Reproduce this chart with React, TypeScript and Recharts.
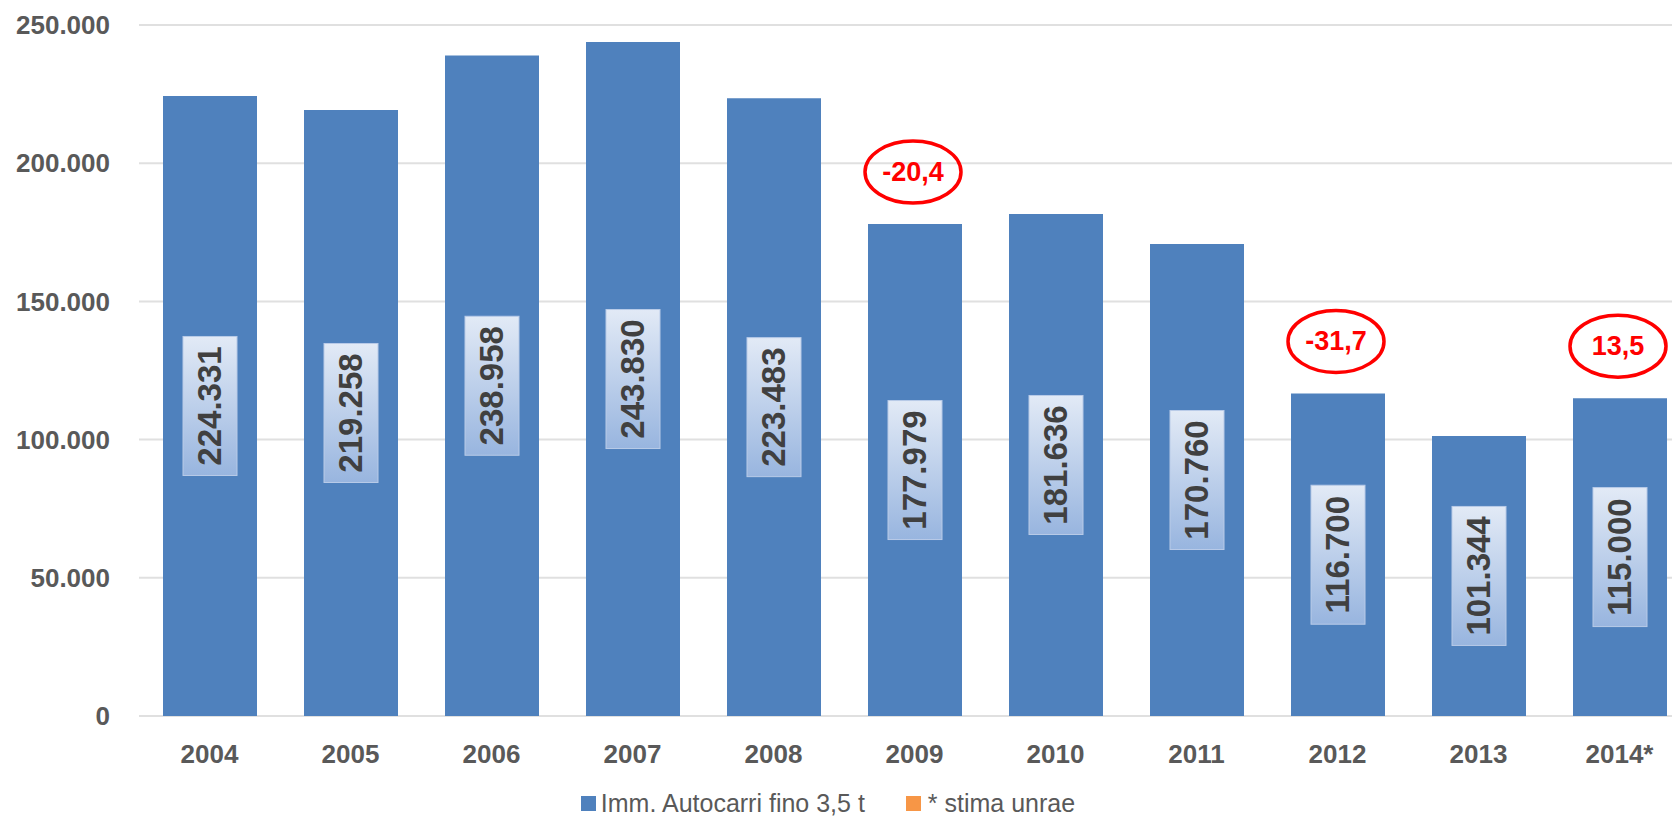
import React from 'react';
import { BarChart, Bar, XAxis, YAxis, CartesianGrid, Legend, LabelList } from 'recharts';

const years = ['2004', '2005', '2006', '2007', '2008', '2009', '2010', '2011', '2012', '2013', '2014*'];
const registrations = [224331, 219258, 238958, 243830, 223483, 177979, 181636, 170760, 116700, 101344, 115000];
const changes: (string | null)[] = [null, null, null, null, null, '-20,4', null, null, '-31,7', null, '13,5'];
const yTicks = [0, 50000, 100000, 150000, 200000, 250000];
const legendItems = [
  { label: 'Imm. Autocarri fino 3,5 t', color: '#4F81BD' },
  { label: '* stima unrae', color: '#F79646' },
];

const data = years.map((year, i) => ({ year, value: registrations[i], change: changes[i] }));

const FONT = '"Liberation Sans", Arial, sans-serif';
const GRAY = '#595959';

const fmt = (v: number) => String(Math.round(v)).replace(/\B(?=(\d{3})+(?!\d))/g, '.');

const ValueBox = (props: any) => {
  const { x, y, width, height, value, index } = props;
  const cx = Number(x) + Number(width) / 2;
  const cy = Number(y) + Number(height) / 2;
  const bw = 54;
  const bh = 139;
  const id = `vbgrad-${index}`;
  return (
    <g>
      <defs>
        <linearGradient id={id} x1="0" y1="0" x2="0" y2="1">
          <stop offset="0%" stopColor="#e2eaf6" />
          <stop offset="100%" stopColor="#98b5df" />
        </linearGradient>
      </defs>
      <rect x={cx - bw / 2} y={cy - bh / 2} width={bw} height={bh} fill={`url(#${id})`} stroke="#b9cbe8" strokeWidth={1} />
      <text
        x={cx}
        y={cy}
        transform={`rotate(-90, ${cx}, ${cy})`}
        textAnchor="middle"
        dominantBaseline="central"
        fontFamily={FONT}
        fontWeight="bold"
        fontSize={33}
        fill="#404040"
      >
        {fmt(Number(value))}
      </text>
    </g>
  );
};

const ChangeBubble = (props: any) => {
  const { x, y, width, index } = props;
  const label = changes[index];
  if (!label) return null;
  const cx = Number(x) + Number(width) / 2 - 2;
  const cy = Number(y) - 52;
  return (
    <g>
      <ellipse cx={cx} cy={cy} rx={48} ry={31} fill="none" stroke="#ff0000" strokeWidth={3.5} />
      <text
        x={cx}
        y={cy}
        textAnchor="middle"
        dominantBaseline="central"
        fontFamily={FONT}
        fontWeight="bold"
        fontSize={27}
        fill="#ff0000"
      >
        {label}
      </text>
    </g>
  );
};

const renderLegend = () => (
  <div
    style={{
      display: 'flex',
      justifyContent: 'center',
      alignItems: 'center',
      height: 44,
      width: '100%',
      paddingRight: 16,
      boxSizing: 'border-box',
      fontFamily: FONT,
      fontSize: 25,
      color: GRAY,
    }}
  >
    {legendItems.map((item, i) => (
      <span key={item.label} style={{ display: 'flex', alignItems: 'center', marginLeft: i === 0 ? 0 : 41 }}>
        <span style={{ display: 'inline-block', width: 15, height: 15, background: item.color, marginRight: i === 0 ? 5 : 7 }} />
        {item.label}
      </span>
    ))}
  </div>
);

export default function App() {
  return (
    <div style={{ position: 'absolute', left: 0, top: 0, width: 1672, height: 826, overflow: 'hidden', background: '#ffffff' }}>
      <BarChart width={1700} height={826} data={data} margin={{ top: 25, right: 10, bottom: 1, left: 0 }}>
        <CartesianGrid vertical={false} stroke="#e0e0e0" strokeWidth={2} />
        <XAxis
          dataKey="year"
          interval={0}
          tickLine={false}
          axisLine={false}
          tickSize={0}
          tickMargin={29}
          height={65}
          tick={{ fontFamily: FONT, fontSize: 26, fontWeight: 'bold', fill: GRAY }}
        />
        <YAxis
          domain={[0, 250000]}
          ticks={yTicks}
          width={139}
          tickLine={false}
          axisLine={false}
          tickSize={0}
          tickMargin={29}
          tickFormatter={fmt}
          tick={{ fontFamily: FONT, fontSize: 26, fontWeight: 'bold', fill: GRAY }}
        />
        <Legend
          verticalAlign="bottom"
          content={renderLegend}
          wrapperStyle={{ left: 0, width: 1672 }}
        />
        <Bar dataKey="value" fill="#4F81BD" barSize={94} isAnimationActive={false}>
          <LabelList dataKey="value" content={ValueBox} />
          <LabelList dataKey="value" content={ChangeBubble} />
        </Bar>
      </BarChart>
    </div>
  );
}
